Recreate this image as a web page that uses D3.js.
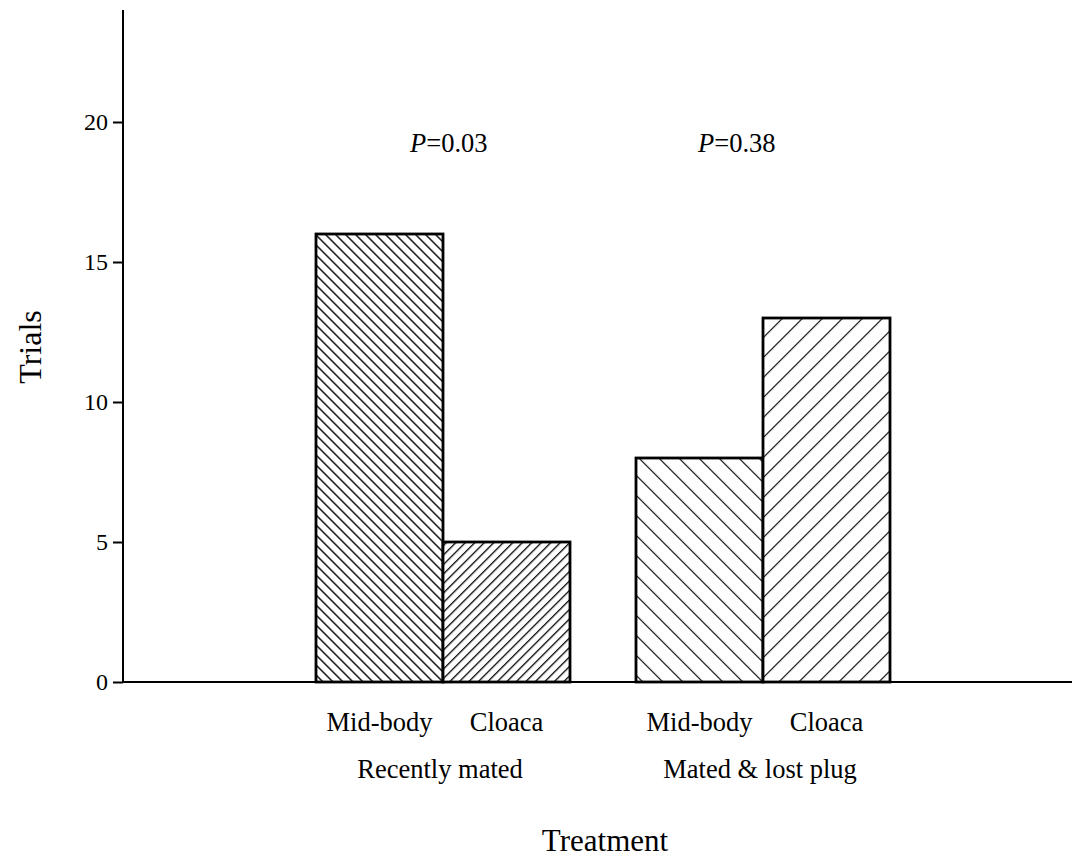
<!DOCTYPE html>
<html><head><meta charset="utf-8">
<script src="https://cdn.jsdelivr.net/npm/d3@7"></script>
<style>body{margin:0;background:#fff}svg{display:block}text{font-family:"Liberation Serif","Times New Roman",serif;fill:#000}</style>
</head><body><svg id="c" width="1072" height="860"></svg>
<script>
const groups = ["Recently mated", "Mated & lost plug"];
const sites = ["Mid-body", "Cloaca"];
const values = [[16, 5], [8, 13]];
const pvalues = ["0.03", "0.38"];
const yTicks = [0, 5, 10, 15, 20];

const svg = d3.select("#c");
const m = {left: 123, top: 10, right: 1072, bottom: 682};
const y = d3.scaleLinear().domain([0, 24]).range([m.bottom, m.top]);
const xg = d3.scaleBand().domain(groups).range([316, 890]).paddingInner(66 / 320).paddingOuter(0);
const xs = d3.scaleBand().domain(sites).range([0, xg.bandwidth()]);

const defs = svg.append("defs");
function hatch(id, spacing, angle, sw) {
  const p = defs.append("pattern").attr("id", id).attr("patternUnits", "userSpaceOnUse")
    .attr("width", spacing).attr("height", spacing).attr("patternTransform", `rotate(${angle})`);
  p.append("rect").attr("width", spacing).attr("height", spacing).attr("fill", "#fff");
  p.append("line").attr("x1", 0).attr("y1", 0).attr("x2", 0).attr("y2", spacing)
    .attr("stroke", "#000").attr("stroke-width", sw);
}
hatch("h0", 10 / Math.SQRT2, -45, 2.8);
hatch("h1", 9.5 / Math.SQRT2, 45, 2.6);
hatch("h2", 20 / Math.SQRT2, -45, 2.3);
hatch("h3", 20 / Math.SQRT2, 45, 2.3);
const fills = [["h0", "h1"], ["h2", "h3"]];

// bars
groups.forEach((g, gi) => {
  sites.forEach((s, si) => {
    const v = values[gi][si];
    svg.append("rect")
      .attr("x", xg(g) + xs(s)).attr("y", y(v))
      .attr("width", xs.bandwidth()).attr("height", y(0) - y(v))
      .attr("fill", `url(#${fills[gi][si]})`).attr("stroke", "#000").attr("stroke-width", 2.8);
  });
});

// y axis
const ya = svg.append("g").attr("transform", `translate(${m.left},0)`)
  .call(d3.axisLeft(y).tickValues(yTicks).tickSize(10).tickPadding(5).tickSizeOuter(0));
ya.select(".domain").attr("stroke-width", 2).attr("d", `M0,${m.top}V${m.bottom}`);
ya.selectAll(".tick line").attr("stroke-width", 2);
ya.selectAll(".tick text").style("font-size", "24px").style("font-family", "Liberation Serif");

// x axis line
svg.append("line").attr("x1", m.left).attr("x2", m.right).attr("y1", y(0)).attr("y2", y(0))
  .attr("stroke", "#000").attr("stroke-width", 2);

// x labels
groups.forEach((g) => {
  sites.forEach((s) => {
    svg.append("text").attr("x", xg(g) + xs(s) + xs.bandwidth() / 2)
      .attr("y", 731).attr("text-anchor", "middle").style("font-size", "26.5px").text(s);
  });
  svg.append("text").attr("x", xg(g) + xg.bandwidth() / 2 - 3).attr("y", 778)
    .attr("text-anchor", "middle").style("font-size", "26.5px").text(g);
});

// P values
const pShift = [-33, -65];
groups.forEach((g, gi) => {
  const t = svg.append("text").attr("x", xg(g) + xg.bandwidth() / 2 + pShift[gi]).attr("y", 152)
    .attr("text-anchor", "start").style("font-size", "26.5px");
  t.append("tspan").style("font-style", "italic").text("P");
  t.append("tspan").text("=" + pvalues[gi]);
});

// axis titles
svg.append("text").attr("x", 605).attr("y", 851).attr("text-anchor", "middle").style("font-size", "31px").text("Treatment");
svg.append("text").attr("transform", "translate(41,347) rotate(-90)").attr("text-anchor", "middle").style("font-size", "32px").text("Trials");
</script></body></html>
